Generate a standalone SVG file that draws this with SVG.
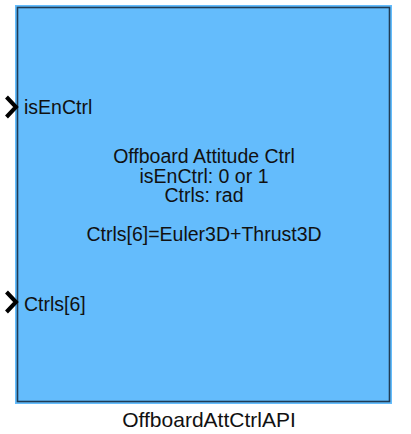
<svg xmlns="http://www.w3.org/2000/svg" width="411" height="434" viewBox="0 0 411 434">
<style>
text{font-family:"Liberation Sans",Arial,sans-serif;font-size:19.5px;fill:#111}
.c{text-anchor:middle}
.port{fill:none;stroke:#000;stroke-width:4;stroke-linejoin:miter}
</style>
<rect width="411" height="434" fill="#fff"/>
<g id="block">
<rect x="15" y="5" width="377" height="399" fill="#64bcfc"/>
<rect x="17.5" y="7.5" width="372" height="394" fill="none" stroke="#203c55" stroke-width="1.6"/>
<text class="c" x="204" y="163">Offboard Attitude Ctrl</text>
<text class="c" x="204" y="182.5">isEnCtrl: 0 or 1</text>
<text class="c" x="204" y="202">Ctrls: rad</text>
<text class="c" x="204" y="241">Ctrls[6]=Euler3D+Thrust3D</text>
<text class="c" x="209" y="426.5" style="font-size:21px">OffboardAttCtrlAPI</text>
</g>
<g id="port-isEnCtrl">
<polyline class="port" points="6.5,97 16,107 6.5,117"/>
<text x="24" y="113.5">isEnCtrl</text>
</g>
<g id="port-Ctrls">
<polyline class="port" points="6.5,292 16,302 6.5,312"/>
<text x="24" y="311">Ctrls[6]</text>
</g>
<g id="connectors"/>
</svg>
